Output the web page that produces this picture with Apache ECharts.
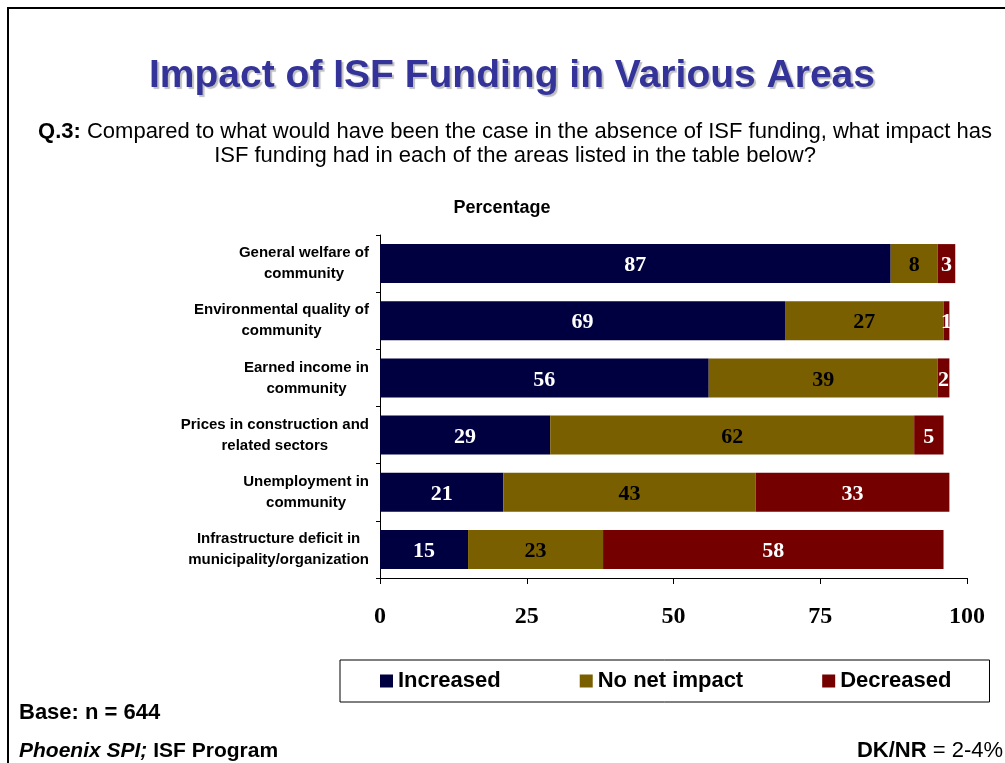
<!DOCTYPE html>
<html><head><meta charset="utf-8">
<script src="https://cdn.jsdelivr.net/npm/echarts@6/dist/echarts.min.js"></script>
<style>html,body{margin:0;padding:0;background:#fff}#c{width:1005px;height:763px}</style>
</head><body><div id="c"></div>
<script>
const categories = [
  "General welfare of\ncommunity",
  "Environmental quality of\ncommunity",
  "Earned income in\ncommunity",
  "Prices in construction and\nrelated sectors",
  "Unemployment in\ncommunity",
  "Infrastructure deficit in\nmunicipality/organization"
];
const seriesNames = ["Increased", "No net impact", "Decreased"];
const increased = [87, 69, 56, 29, 21, 15];
const noNetImpact = [8, 27, 39, 62, 43, 23];
const decreased = [3, 1, 2, 5, 33, 58];
const xMin = 0, xMax = 100, xStep = 25;

const SANS = "'Liberation Sans', Arial, sans-serif";
const SERIF = "'Liberation Serif', 'Times New Roman', serif";
const colors = ["#000040", "#7a5f00", "#750000"];
const labelColors = ["#ffffff", "#000000", "#ffffff"];

const chart = echarts.init(document.getElementById('c'));
const values = [increased, noNetImpact, decreased];

chart.setOption({
  animation: false,
  backgroundColor: '#ffffff',
  graphic: [{
    type: 'rect', shape: {x: 8, y: 8, width: 1200, height: 1000},
    style: {fill: 'none', stroke: '#000', lineWidth: 2}, silent: true
  }],
  title: [
    {text: 'Impact of ISF Funding in Various Areas', left: 512, top: 57, textAlign: 'center', padding: 0,
     textStyle: {fontFamily: SANS, fontWeight: 'bold', fontSize: 39, color: '#333399',
       textShadowColor: 'rgba(0,0,0,0.25)', textShadowOffsetX: 2, textShadowOffsetY: 2, textShadowBlur: 1}},
    {text: '{b|Q.3:}{n| Compared to what would have been the case in the absence of ISF funding, what impact has}',
     left: 515, top: 121, textAlign: 'center', padding: 0,
     textStyle: {fontWeight: 'normal', rich: {
       b: {fontFamily: SANS, fontWeight: 'bold', fontSize: 22, color: '#000'},
       n: {fontFamily: SANS, fontWeight: 'normal', fontSize: 22, color: '#000'}}}},
    {text: 'ISF funding had in each of the areas listed in the table below?', left: 515, top: 145, textAlign: 'center', padding: 0,
     textStyle: {fontFamily: SANS, fontWeight: 'normal', fontSize: 22, color: '#000'}},
    {text: 'Percentage', left: 502, top: 199, textAlign: 'center', padding: 0,
     textStyle: {fontFamily: SANS, fontWeight: 'bold', fontSize: 18, color: '#000'}},
    {text: 'Base: n = 644', left: 19, top: 702, padding: 0,
     textStyle: {fontFamily: SANS, fontWeight: 'bold', fontSize: 22, color: '#000'}},
    {text: '{i|Phoenix SPI;}{b| ISF Program}', left: 19, top: 741, padding: 0,
     textStyle: {rich: {
       i: {fontFamily: SANS, fontWeight: 'bold', fontStyle: 'italic', fontSize: 21, color: '#000'},
       b: {fontFamily: SANS, fontWeight: 'bold', fontSize: 21, color: '#000'}}}},
    {text: '{b|DK/NR}{n| = 2-4%}', right: 2, top: 740, padding: 0,
     textStyle: {fontWeight: 'normal', rich: {
       b: {fontFamily: SANS, fontWeight: 'bold', fontSize: 22, color: '#000'},
       n: {fontFamily: SANS, fontWeight: 'normal', fontSize: 22, color: '#000'}}}}
  ],
  legend: {
    data: seriesNames, left: 340, top: 660, orient: 'horizontal',
    icon: 'rect', itemWidth: 13, itemHeight: 13, itemGap: 79,
    borderColor: '#000', borderWidth: 1, padding: [10, 38, 10, 40],
    textStyle: {fontFamily: SANS, fontWeight: 'bold', fontSize: 22, color: '#000'}
  },
  grid: {left: 380, top: 235, width: 587, height: 343, containLabel: false},
  xAxis: {
    type: 'value', min: xMin, max: xMax, interval: xStep,
    splitLine: {show: false},
    axisLine: {show: true, lineStyle: {color: '#000', width: 1}},
    axisTick: {show: true, length: 6, lineStyle: {color: '#000'}},
    axisLabel: {margin: 27, fontFamily: SERIF, fontWeight: 'bold', fontSize: 24, color: '#000'}
  },
  yAxis: {
    type: 'category', data: categories, inverse: true,
    axisLine: {show: true, lineStyle: {color: '#000', width: 1}},
    axisTick: {show: true, length: 4, lineStyle: {color: '#000'}},
    axisLabel: {
      margin: 11, align: 'right',
      formatter: v => v.split('\n').map(l => '{c|' + l + '}').join('\n'),
      rich: {c: {align: 'center', fontFamily: SANS, fontWeight: 'bold', fontSize: 15, lineHeight: 21, color: '#000'}}
    }
  },
  series: seriesNames.map((name, i) => ({
    name, type: 'bar', stack: 'total', data: values[i], barWidth: 39,
    itemStyle: {color: colors[i]},
    label: {show: true, position: 'inside', offset: [0, 2], formatter: '{c}',
      fontFamily: SERIF, fontWeight: 'bold', fontSize: 22, color: labelColors[i]}
  }))
});
</script></body></html>
